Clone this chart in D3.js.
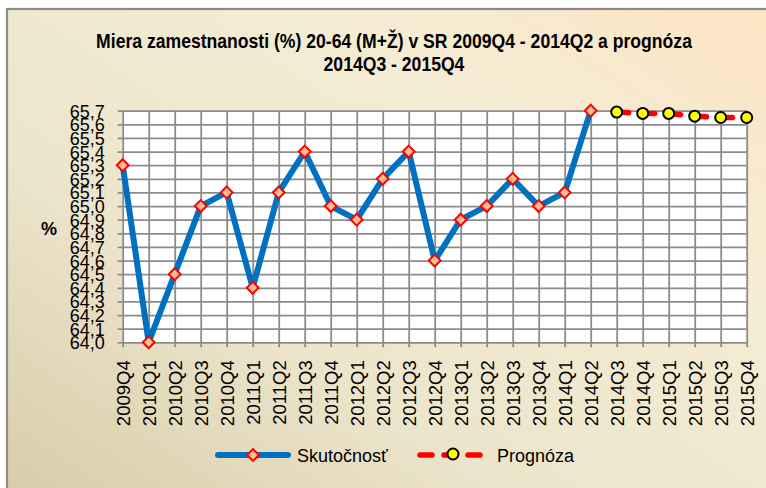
<!DOCTYPE html>
<html>
<head>
<meta charset="utf-8">
<script src="https://cdn.jsdelivr.net/npm/d3@7"></script>
<style>
  body { margin: 0; background: #fff; }
  svg text { font-family: "Liberation Sans", Arial, sans-serif; fill: #000; }
</style>
</head>
<body>
<div id="chart"></div>
<script>
// categories (quarters)
const quarters = ["2009Q4","2010Q1","2010Q2","2010Q3","2010Q4","2011Q1","2011Q2","2011Q3","2011Q4",
  "2012Q1","2012Q2","2012Q3","2012Q4","2013Q1","2013Q2","2013Q3","2013Q4","2014Q1","2014Q2",
  "2014Q3","2014Q4","2015Q1","2015Q2","2015Q3","2015Q4"];

// actual values 2009Q4 - 2014Q2
const actualQuarters = quarters.slice(0, 19);
const actualValues = [65.3, 64.0, 64.5, 65.0, 65.1, 64.4, 65.1, 65.4, 65.0, 64.9, 65.2, 65.4, 64.6,
  64.9, 65.0, 65.2, 65.0, 65.1, 65.7];

// forecast 2014Q3 - 2015Q4
const forecastQuarters = quarters.slice(19);
const forecastValues = [65.69, 65.68, 65.68, 65.66, 65.65, 65.65];

const yTicks = [64.0,64.1,64.2,64.3,64.4,64.5,64.6,64.7,64.8,64.9,65.0,65.1,65.2,65.3,65.4,65.5,65.6,65.7];

const titleLines = ["Miera zamestnanosti (%) 20-64 (M+Ž) v SR 2009Q4 - 2014Q2 a prognóza", "2014Q3 - 2015Q4"];
const seriesNames = ["Skutočnosť", "Prognóza"];

const W = 766, H = 488;
const plotL = 122.7, plotR = 746.7, plotT = 110.7, plotB = 342.3;

const svg = d3.select("#chart").append("svg")
  .attr("width", W).attr("height", H);

const defs = svg.append("defs");
const grad = defs.append("linearGradient").attr("id", "bg")
  .attr("x1", 0).attr("y1", 1).attr("x2", 1).attr("y2", 0);
grad.append("stop").attr("offset", 0).attr("stop-color", "#d6caa5");
grad.append("stop").attr("offset", 0.35).attr("stop-color", "#ece4cb");
grad.append("stop").attr("offset", 0.7).attr("stop-color", "#f5ecd4");
grad.append("stop").attr("offset", 1).attr("stop-color", "#fde4c3");

// frame
svg.append("rect").attr("x", 7).attr("y", 9).attr("width", 800).attr("height", 520)
  .attr("fill", "url(#bg)").attr("stroke", "#8a8a88").attr("stroke-width", 2.2);

// title (condensed look like Arial Narrow)
svg.append("g").attr("transform", "translate(394,0) scale(0.88,1)")
  .append("text")
  .attr("text-anchor", "middle")
  .attr("font-weight", "bold").attr("font-size", 20)
  .selectAll("tspan").data(titleLines).join("tspan")
  .attr("x", 0).attr("y", (d, i) => 48 + i * 23)
  .text(d => d);

const x = d3.scalePoint().domain(quarters).range([plotL, plotR]);
const y = d3.scaleLinear().domain([64, 65.7]).range([plotB, plotT]);

// plot area
svg.append("rect").attr("x", plotL).attr("y", plotT)
  .attr("width", plotR - plotL).attr("height", plotB - plotT).attr("fill", "#fff");

// y axis + horizontal grid
const yAxis = svg.append("g")
  .attr("transform", `translate(${plotL},0)`)
  .call(d3.axisLeft(y).tickValues(yTicks).tickSize(-(plotR - plotL)).tickSizeOuter(0).tickPadding(18)
    .tickFormat(d => d3.format(".1f")(d).replace(".", ",")));
yAxis.select(".domain").remove();
yAxis.selectAll("line").attr("x1", -5).attr("stroke", "#8c8c8c").attr("stroke-width", 1.8);
yAxis.selectAll("text").attr("font-size", 18).attr("dy", "0.36em")
  .style("font-family", "'Liberation Sans', Arial, sans-serif");

// x axis + vertical grid
const xAxis = svg.append("g")
  .attr("transform", `translate(0,${plotB})`)
  .call(d3.axisBottom(x).tickSize(5).tickSizeOuter(0).tickPadding(0));
xAxis.select(".domain").remove();
xAxis.selectAll("line").attr("y1", -(plotB - plotT)).attr("stroke", "#8c8c8c").attr("stroke-width", 1.8);
xAxis.selectAll("text")
  .attr("transform", "rotate(-90)")
  .attr("text-anchor", "end")
  .attr("x", -18).attr("y", 0).attr("dy", "0.36em")
  .attr("font-size", 18.5)
  .style("font-family", "'Liberation Sans', Arial, sans-serif");

// % label
svg.append("text").attr("x", 49).attr("y", 235).attr("text-anchor", "middle")
  .attr("font-size", 18).attr("font-weight", "bold").text("%");

const actual = actualQuarters.map((q, i) => ({q, v: actualValues[i]}));
const forecast = forecastQuarters.map((q, i) => ({q, v: forecastValues[i]}));
const line = d3.line().x(d => x(d.q)).y(d => y(d.v));

const diamond = d3.symbol().type(d3.symbolDiamond2).size(90);

// actual series
svg.append("path").datum(actual).attr("d", line)
  .attr("fill", "none").attr("stroke", "#0070c0").attr("stroke-width", 6).attr("stroke-linejoin", "round");
svg.append("g").selectAll("path").data(actual).join("path")
  .attr("transform", d => `translate(${x(d.q)},${y(d.v)})`)
  .attr("d", diamond)
  .attr("fill", "#fbbf93").attr("stroke", "#ff0000").attr("stroke-width", 2);

// forecast series
svg.append("path").datum(forecast).attr("d", line)
  .attr("fill", "none").attr("stroke", "#ff0000").attr("stroke-width", 5.5)
  .attr("stroke-dasharray", "12,14").attr("stroke-linecap", "round");
svg.append("g").selectAll("circle").data(forecast).join("circle")
  .attr("cx", d => x(d.q)).attr("cy", d => y(d.v)).attr("r", 5.5)
  .attr("fill", "#ffff00").attr("stroke", "#000").attr("stroke-width", 2);

// legend
const lg = svg.append("g");
lg.append("line").attr("x1", 218).attr("x2", 288).attr("y1", 455).attr("y2", 455)
  .attr("stroke", "#0070c0").attr("stroke-width", 6).attr("stroke-linecap", "round");
lg.append("path").attr("transform", "translate(253,455)").attr("d", diamond)
  .attr("fill", "#fbbf93").attr("stroke", "#ff0000").attr("stroke-width", 2);
lg.append("text").attr("x", 297).attr("y", 462).attr("font-size", 18).text(seriesNames[0]);

lg.append("line").attr("x1", 420).attr("x2", 481).attr("y1", 455).attr("y2", 455)
  .attr("stroke", "#ff0000").attr("stroke-width", 5.5)
  .attr("stroke-dasharray", "12,12").attr("stroke-linecap", "round");
lg.append("circle").attr("cx", 453).attr("cy", 454).attr("r", 5.5)
  .attr("fill", "#ffff00").attr("stroke", "#000").attr("stroke-width", 2);
lg.append("text").attr("x", 497).attr("y", 462).attr("font-size", 18).text(seriesNames[1]);
</script>
</body>
</html>
